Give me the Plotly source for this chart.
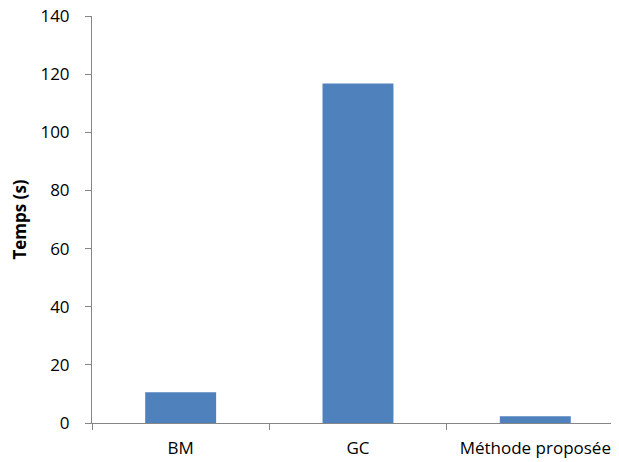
import plotly.graph_objects as go

categories = ["BM", "GC", "Méthode proposée"]
values = [10.6, 116.8, 2.3]
y_ticks = [0, 20, 40, 60, 80, 100, 120, 140]

fig = go.Figure()
fig.add_trace(go.Bar(
    x=categories, y=values,
    marker=dict(color="#4F81BD", line=dict(width=0)),
    width=0.4,
))

axis_color = "#868686"
font_family = "Open Sans"
fs = 17

fig.update_layout(
    width=611, height=454,
    margin=dict(l=84, r=0, t=8, b=39, autoexpand=False),
    paper_bgcolor="white", plot_bgcolor="white",
    showlegend=False,
    font=dict(family=font_family, size=fs, color="black"),
    xaxis=dict(
        type="category",
        range=[-0.5, 2.472],
        automargin=False,
        showline=True, linecolor=axis_color, linewidth=1,
        ticks="outside", tickson="boundaries", ticklen=6, tickcolor=axis_color,
        showgrid=False, zeroline=False,
        tickfont=dict(size=fs),
        ticklabelstandoff=10,
        ticklabeloverflow="allow",
    ),
    yaxis=dict(
        range=[0, 140],
        tickvals=y_ticks,
        automargin=False,
        showline=True, linecolor=axis_color, linewidth=1,
        ticks="outside", ticklen=6, tickcolor=axis_color,
        showgrid=False, zeroline=False,
        tickfont=dict(size=fs),
        ticklabelstandoff=12,
        ticklabeloverflow="allow",
        title=dict(text="<b>Temps (s)</b>", font=dict(size=fs), standoff=9),
    ),
)

fig.write_html("out.html")
